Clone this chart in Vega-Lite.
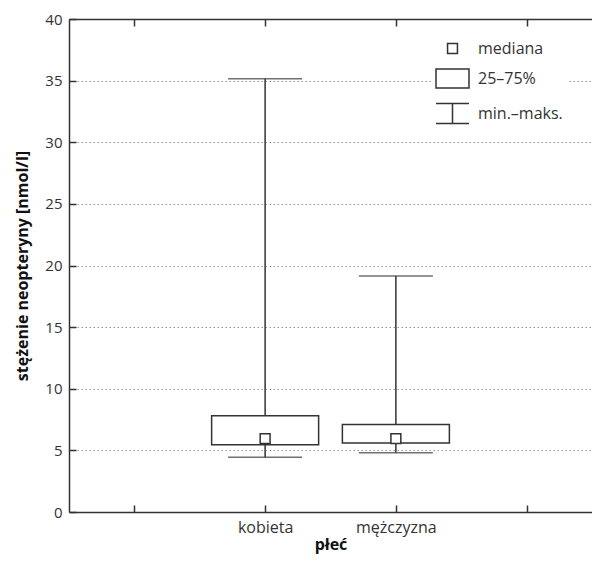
{
  "$schema": "https://vega.github.io/schema/vega-lite/v6.json",
  "autosize": {"type": "none"},
  "padding": {"left": 69, "top": 19, "right": 0, "bottom": 51},
  "width": 523,
  "height": 493,
  "background": "white",
  "config": {
    "view": {"stroke": null},
    "font": "Open Sans",
    "axis": {
      "domainColor": "#333",
      "domainWidth": 1.5,
      "tickColor": "#333",
      "tickWidth": 1.5,
      "labelColor": "#333",
      "labelFont": "Open Sans",
      "labelFontSize": 15,
      "titleFont": "Open Sans",
      "titleFontSize": 16,
      "titleFontWeight": "bold",
      "titleColor": "#111"
    }
  },
  "data": {
    "values": [
      {"plec": "kobieta", "min": 4.45, "q1": 5.45, "med": 5.95, "q3": 7.8, "max": 35.15},
      {"plec": "mężczyzna", "min": 4.8, "q1": 5.6, "med": 5.95, "q3": 7.1, "max": 19.15}
    ]
  },
  "resolve": {"axis": {"x": "independent"}},
  "layer": [
    {
      "mark": {"type": "rule", "stroke": "#333", "strokeWidth": 1.5},
      "encoding": {
        "x": {
          "field": "plec", "type": "nominal",
          "scale": {"type": "point", "domain": ["_a", "kobieta", "mężczyzna", "_b"], "padding": 0.5},
          "axis": {"orient": "bottom", "title": "płeć", "labelAngle": 0, "tickSize": -7, "labelPadding": 14, "titlePadding": 1,
            "labelFontSize": 16,
            "labelExpr": "datum.value == '_a' || datum.value == '_b' ? '' : datum.value", "grid": false}
        },
        "y": {
          "field": "min", "type": "quantitative",
          "scale": {"domain": [0, 40], "nice": false},
          "axis": {"title": "stężenie neopteryny [nmol/l]", "values": [0, 5, 10, 15, 20, 25, 30, 35, 40], "tickSize": -7, "labelPadding": 14, "titlePadding": 14,
            "grid": true, "gridColor": "#999", "gridDash": [1.5, 2.5], "gridWidth": 1.2}
        },
        "y2": {"field": "max"}
      }
    },
    {
      "mark": {"type": "bar", "size": 107, "fill": "white", "stroke": "#333", "strokeWidth": 1.5},
      "encoding": {
        "x": {"field": "plec", "type": "nominal",
          "axis": {"orient": "top", "title": null, "labels": false, "tickSize": -7, "grid": false}},
        "y": {"field": "q1", "type": "quantitative"},
        "y2": {"field": "q3"}
      }
    },
    {
      "mark": {"type": "tick", "size": 74, "thickness": 1.5, "color": "#333"},
      "encoding": {
        "x": {"field": "plec", "type": "nominal", "axis": null},
        "y": {"field": "min", "type": "quantitative"}
      }
    },
    {
      "mark": {"type": "tick", "size": 74, "thickness": 1.5, "color": "#333"},
      "encoding": {
        "x": {"field": "plec", "type": "nominal", "axis": null},
        "y": {"field": "max", "type": "quantitative"}
      }
    },
    {
      "mark": {"type": "point", "filled": false, "fill": "white", "fillOpacity": 1, "stroke": "#333", "strokeWidth": 1.5, "opacity": 1, "size": 1089},
      "encoding": {
        "x": {"field": "plec", "type": "nominal", "axis": null},
        "y": {"field": "med", "type": "quantitative"},
        "shape": {
          "datum": "mediana",
          "scale": {
            "domain": ["mediana", "25–75%", "min.–maks."],
            "range": ["M-0.3,-0.3H0.3V0.3H-0.3Z", "M-1,-0.58H1V0.58H-1Z", "M-1,-0.6H1M0,-0.6V0.6M-1,0.6H1"]
          },
          "legend": {
            "orient": "none", "legendX": 362, "legendY": 8, "title": null,
            "fillColor": "white", "padding": 4,
            "symbolSize": 1089,
            "labelFont": "Open Sans", "labelFontSize": 16, "labelColor": "#333", "labelOffset": 8, "rowPadding": 4,
            "encode": {
              "symbols": {"update": {
                "stroke": {"value": "#333"}, "strokeWidth": {"value": 1.5},
                "fill": {"value": "white"}, "opacity": {"value": 1}, "strokeOpacity": {"value": 1}, "size": {"value": 1089}
              }}
            }
          }
        }
      }
    }
  ]
}
